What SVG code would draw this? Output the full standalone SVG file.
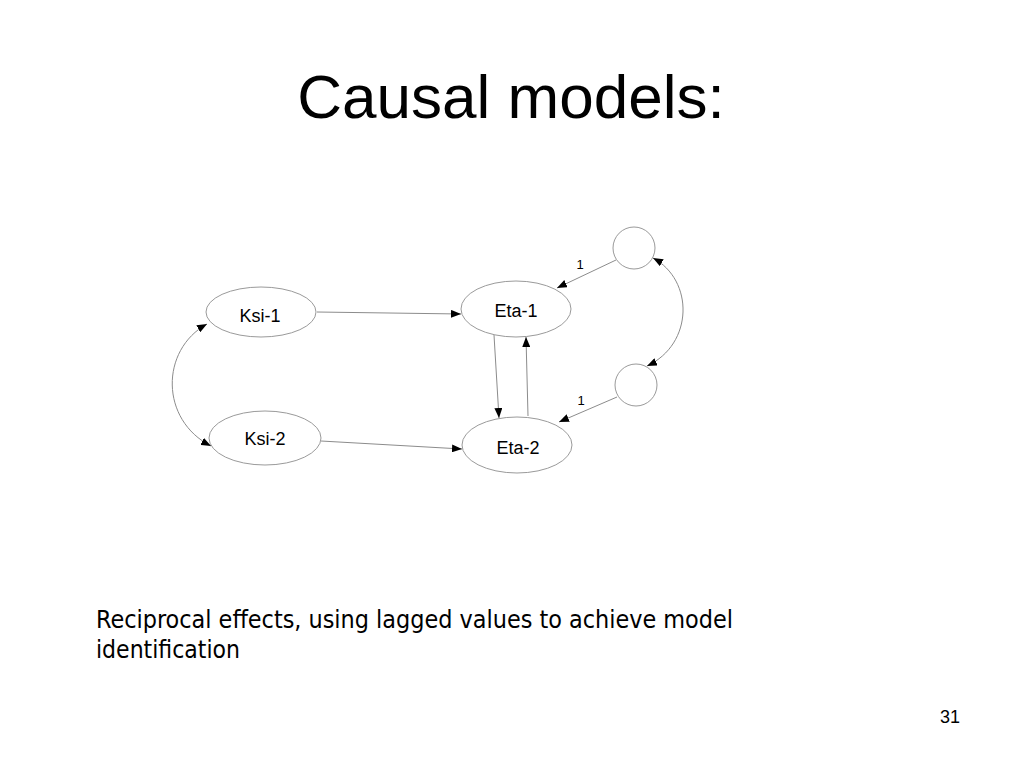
<svg xmlns="http://www.w3.org/2000/svg" width="1024" height="768" viewBox="0 0 1024 768">
<style>
.node{fill:#ffffff;stroke:#9a9a9a;stroke-width:1}
.lbl{font-family:"Liberation Sans",Arial,sans-serif;font-size:18px;fill:#000;text-anchor:middle}
.edge{fill:none;stroke:#8c8c8c;stroke-width:1}
.num{font-family:"Liberation Sans",Arial,sans-serif;font-size:13px;fill:#000;text-anchor:middle}
.body{font-family:"DejaVu Sans Condensed","DejaVu Sans",sans-serif;font-stretch:condensed;font-size:25px;fill:#000}
</style>
<defs>
<marker id="arr" markerUnits="userSpaceOnUse" markerWidth="11" markerHeight="8" refX="10" refY="4" orient="auto-start-reverse" viewBox="0 0 11 8">
<path d="M0,0 L10,4 L0,8 z" fill="#000"/>
</marker>
</defs>
<rect x="0" y="0" width="1024" height="768" fill="#ffffff"/>
<text x="511" y="118" font-family="Liberation Sans,Arial,sans-serif" font-size="62" text-anchor="middle" fill="#000">Causal models:</text>

<g id="connectors">
<line class="edge" x1="317" y1="312" x2="461" y2="314" marker-end="url(#arr)"/>
<line class="edge" x1="321" y1="441" x2="462" y2="449" marker-end="url(#arr)"/>
<line class="edge" x1="494" y1="335" x2="499" y2="418" marker-end="url(#arr)"/>
<line class="edge" x1="528" y1="416" x2="526" y2="337" marker-end="url(#arr)"/>
<line class="edge" x1="616" y1="260" x2="557" y2="288" marker-end="url(#arr)"/>
<line class="edge" x1="617" y1="397" x2="559" y2="422" marker-end="url(#arr)"/>
<path class="edge" d="M207,324 C160,350 160,420 211,446" marker-start="url(#arr)" marker-end="url(#arr)"/>
<path class="edge" d="M653,258 C694,280 694,344 647,366" marker-start="url(#arr)" marker-end="url(#arr)"/>
<text class="num" x="580" y="269">1</text>
<text class="num" x="581" y="405">1</text>
</g>

<g id="ksi1">
<ellipse class="node" cx="261" cy="312" rx="55" ry="25"/>
<text class="lbl" x="260" y="322">Ksi-1</text>
</g>
<g id="ksi2">
<ellipse class="node" cx="265" cy="438" rx="56" ry="27"/>
<text class="lbl" x="265" y="445">Ksi-2</text>
</g>
<g id="eta1">
<ellipse class="node" cx="516" cy="309" rx="55" ry="28"/>
<text class="lbl" x="516" y="317">Eta-1</text>
</g>
<g id="eta2">
<ellipse class="node" cx="517" cy="445" rx="55" ry="28"/>
<text class="lbl" x="518" y="454">Eta-2</text>
</g>
<g id="err1">
<circle class="node" cx="634" cy="248" r="21"/>
</g>
<g id="err2">
<circle class="node" cx="636" cy="385" r="21"/>
</g>

<text class="body" x="96" y="628" textLength="637" lengthAdjust="spacingAndGlyphs">Reciprocal effects, using lagged values to achieve model</text>
<text class="body" x="96" y="658" textLength="144" lengthAdjust="spacingAndGlyphs">identification</text>
<text x="950" y="723" font-family="Liberation Sans,Arial,sans-serif" font-size="18" text-anchor="middle" fill="#000">31</text>
</svg>
